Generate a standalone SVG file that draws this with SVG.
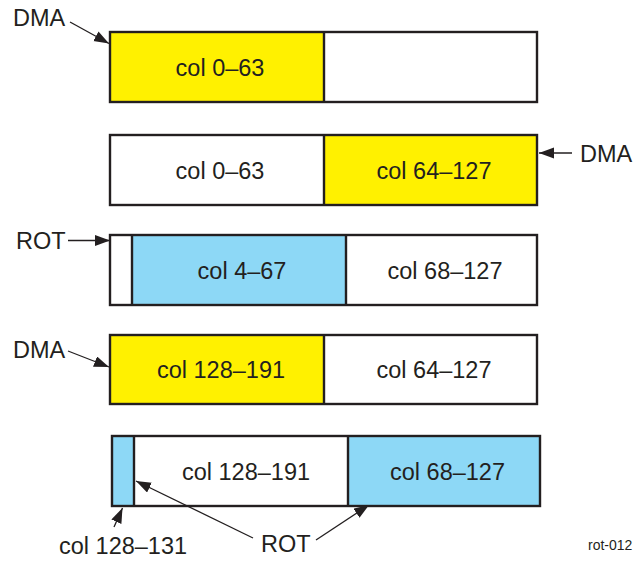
<svg xmlns="http://www.w3.org/2000/svg" width="634" height="563" viewBox="0 0 634 563">
<style>
.t{font-family:"Liberation Sans",Arial,sans-serif;font-size:23.5px;fill:#231f20}
.m{text-anchor:middle}
.small{font-family:"Liberation Sans",Arial,sans-serif;font-size:14px;fill:#231f20}
.y{fill:#fff100;stroke:none}
.c{fill:#8dd8f6;stroke:none}
.box{fill:none;stroke:#231f20;stroke-width:2.4}
.div{stroke:#231f20;stroke-width:2.4}
.arr{stroke:#231f20;stroke-width:1.3;fill:none;marker-end:url(#ah)}
</style>
<defs>
<marker id="ah" markerUnits="userSpaceOnUse" markerWidth="16" markerHeight="12" refX="15" refY="5.5" orient="auto">
<path d="M0,0 L15,5.5 L0,11 z" fill="#231f20"/>
</marker>
</defs>
<rect x="0" y="0" width="634" height="563" fill="#fff"/>
<g id="connectors">
<line class="arr" x1="70" y1="22" x2="109" y2="43.5"/>
<line class="arr" x1="572" y1="153" x2="539" y2="153"/>
<line class="arr" x1="68" y1="240.5" x2="110" y2="240.5"/>
<line class="arr" x1="68" y1="351" x2="109" y2="367"/>
<line class="arr" x1="114" y1="527" x2="122.5" y2="508"/>
<line class="arr" x1="253" y1="538" x2="136" y2="481"/>
<line class="arr" x1="316" y1="540" x2="369" y2="505"/>
</g>
<g id="row1">
<rect class="y" x="110" y="32" width="214" height="70"/>
<rect class="box" x="110" y="32" width="427" height="70"/>
<line class="div" x1="324" y1="32" x2="324" y2="102"/>
<text class="t m" x="220" y="76">col 0–63</text>
</g>
<g id="row2">
<rect class="y" x="324" y="135" width="213" height="70"/>
<rect class="box" x="110" y="135" width="427" height="70"/>
<line class="div" x1="324" y1="135" x2="324" y2="205"/>
<text class="t m" x="220" y="179">col 0–63</text>
<text class="t m" x="434" y="179">col 64–127</text>
</g>
<g id="row3">
<rect class="c" x="132" y="235" width="214" height="70"/>
<rect class="box" x="110" y="235" width="427" height="70"/>
<line class="div" x1="132" y1="235" x2="132" y2="305"/>
<line class="div" x1="346" y1="235" x2="346" y2="305"/>
<text class="t m" x="242" y="279">col 4–67</text>
<text class="t m" x="445" y="279">col 68–127</text>
</g>
<g id="row4">
<rect class="y" x="110" y="335" width="214" height="69"/>
<rect class="box" x="110" y="335" width="427" height="69"/>
<line class="div" x1="324" y1="335" x2="324" y2="404"/>
<text class="t m" x="221" y="378">col 128–191</text>
<text class="t m" x="434" y="378">col 64–127</text>
</g>
<g id="row5">
<rect class="c" x="112" y="436" width="22" height="70"/>
<rect class="c" x="348" y="436" width="192" height="70"/>
<rect class="box" x="112" y="436" width="428" height="70"/>
<line class="div" x1="134" y1="436" x2="134" y2="506"/>
<line class="div" x1="348" y1="436" x2="348" y2="506"/>
<text class="t m" x="246" y="480">col 128–191</text>
<text class="t m" x="447.5" y="480">col 68–127</text>
</g>
<g id="labels">
<text class="t" x="13" y="26">DMA</text>
<text class="t" x="580" y="162">DMA</text>
<text class="t" x="16" y="249">ROT</text>
<text class="t" x="13" y="358">DMA</text>
<text class="t" x="59" y="554">col 128–131</text>
<text class="t" x="261" y="552">ROT</text>
<text class="small" x="588" y="550">rot-012</text>
</g>
</svg>
